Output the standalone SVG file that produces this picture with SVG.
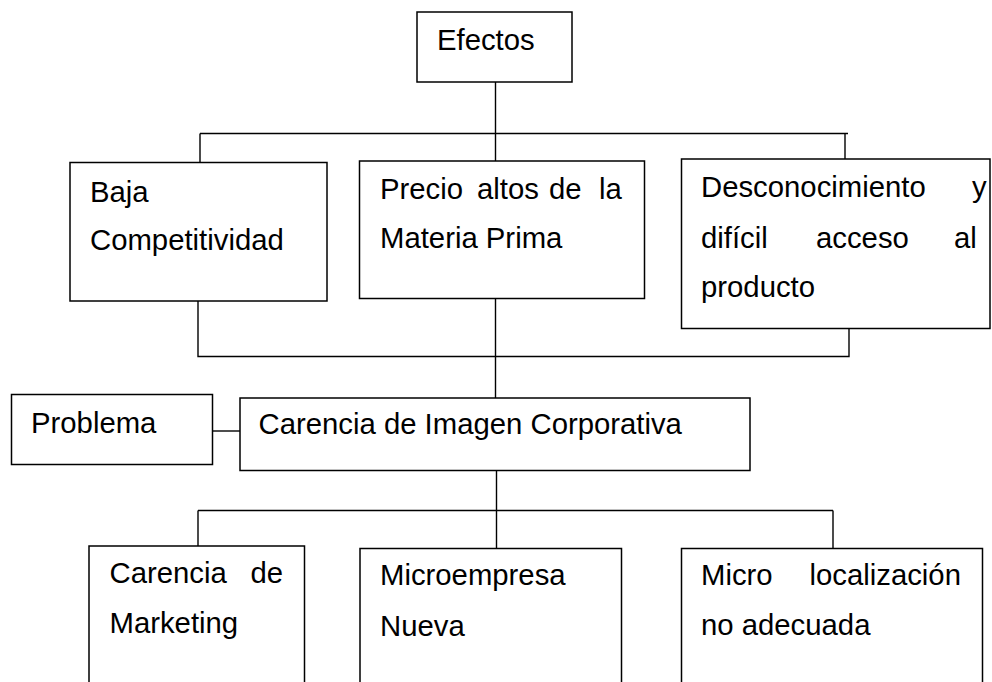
<svg xmlns="http://www.w3.org/2000/svg" width="992" height="682" viewBox="0 0 992 682">
<style>
.box{fill:#fff;stroke:#000;stroke-width:1.5}
.ln{fill:none;stroke:#000;stroke-width:1.4}
text{font-family:"Liberation Sans",Arial,sans-serif;font-size:29.3px;fill:#000}
</style>
<rect width="992" height="682" fill="#fff"/>
<g id="connectors">
<path class="ln" d="M495.5 82 V133.5 M200 133.5 H848 M200 133.5 V162 M495.5 133.5 V161 M845 133.5 V159"/>
<path class="ln" d="M198 301 V356.5 H849 V329 M495.5 298 V398"/>
<path class="ln" d="M212 431 H240"/>
<path class="ln" d="M496.5 471 V510.5 M198 510.5 H833 M198 510.5 V546 M496.5 510.5 V548 M833 510.5 V548"/>
</g>
<g id="efectos">
<rect class="box" x="417" y="12" width="155" height="70"/>
<text x="437" y="50">Efectos</text>
</g>
<g id="baja">
<rect class="box" x="70" y="162.5" width="257" height="138.5"/>
<text x="90" y="201.5">Baja</text>
<text x="90" y="250">Competitividad</text>
</g>
<g id="precio">
<rect class="box" x="359.5" y="161" width="285" height="137.5"/>
<text x="380" y="199">Precio</text>
<text x="477" y="199">altos</text>
<text x="549" y="199">de</text>
<text x="599" y="199">la</text>
<text x="380" y="248">Materia Prima</text>
</g>
<g id="desconocimiento">
<rect class="box" x="681.5" y="159" width="308.5" height="169.5"/>
<text x="701" y="197">Desconocimiento</text>
<text x="972" y="197">y</text>
<text x="701" y="248">difícil</text>
<text x="816" y="248">acceso</text>
<text x="954" y="248">al</text>
<text x="701" y="297">producto</text>
</g>
<g id="problema">
<rect class="box" x="11.5" y="394.5" width="201" height="70"/>
<text x="31" y="433">Problema</text>
</g>
<g id="carencia-imagen">
<rect class="box" x="240" y="398" width="510" height="72.5"/>
<text x="258.5" y="434">Carencia de Imagen Corporativa</text>
</g>
<g id="marketing">
<rect class="box" x="89" y="546" width="215.5" height="160"/>
<text x="109.5" y="583">Carencia</text>
<text x="250.5" y="583">de</text>
<text x="109.5" y="633">Marketing</text>
</g>
<g id="microempresa">
<rect class="box" x="360" y="548.5" width="261.5" height="160"/>
<text x="380" y="585">Microempresa</text>
<text x="380" y="636">Nueva</text>
</g>
<g id="microlocalizacion">
<rect class="box" x="681.5" y="548.5" width="301" height="160"/>
<text x="701" y="585">Micro</text>
<text x="809.5" y="585">localización</text>
<text x="701" y="635">no adecuada</text>
</g>
</svg>
